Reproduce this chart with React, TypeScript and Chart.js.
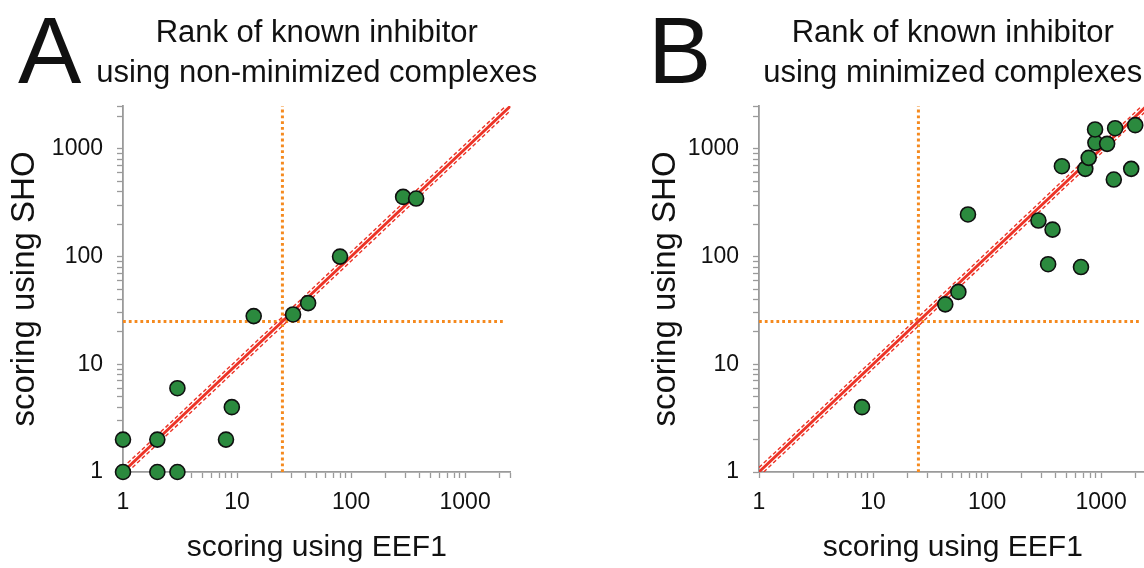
import React, { useEffect, useRef } from 'react';
import { Chart, registerables } from 'chart.js';

Chart.register(...registerables);

// ---------- data ----------
const AXIS_MIN = 1;
const AXIS_MAX = 2500;
const MAJOR_TICKS = [1, 10, 100, 1000];
const MINOR_MULTIPLIERS = [2, 3, 4, 5, 6, 7, 8, 9];
const TICK_LABELS = ['1', '10', '100', '1000'];
const CUTOFF_RANK = 25;
const CUTOFF_H_END = 2250;
const BAND_FACTOR = 1.1;

const A_EEF1 = [1, 1, 2, 2, 3, 3, 8, 9, 14, 31, 42, 80, 286, 372];
const A_SHO = [1, 2, 2, 1, 1, 6, 2, 4, 28, 29, 37, 100, 358, 346];

const B_EEF1 = [8, 43, 56, 68, 282, 375, 343, 666, 453, 727, 778, 891, 885, 1129, 1327, 1292, 1836, 1991];
const B_SHO = [4, 36, 47, 246, 216, 178, 85, 80, 690, 652, 825, 1137, 1513, 1113, 1556, 519, 652, 1660];

const TITLE_LINE_1 = 'Rank of known inhibitor';
const A_TITLE_LINE_2 = 'using non-minimized complexes';
const B_TITLE_LINE_2 = 'using minimized complexes';
const X_TITLE = 'scoring using EEF1';
const Y_TITLE = 'scoring using SHO';

// ---------- style ----------
const FONT = '"Liberation Sans", Arial, Helvetica, sans-serif';
const TEXT = '#111111';
const AXIS_GREY = '#9a9a9a';
const GREEN = '#2b8a3e';
const RED = '#ec3326';
const ORANGE = '#f58a1f';

const CANVAS_W = 600;
const CANVAS_H = 568;

const TICK_VALUES: number[] = (() => {
  const out: number[] = [];
  MAJOR_TICKS.forEach((m) => {
    out.push(m);
    MINOR_MULTIPLIERS.forEach((k) => {
      if (m * k < AXIS_MAX) out.push(m * k);
    });
  });
  out.push(AXIS_MAX);
  return out.sort((a, b) => a - b);
})();

const tickLabel = (v: number) => {
  const i = MAJOR_TICKS.indexOf(v);
  return i >= 0 ? TICK_LABELS[i] : '';
};

const panelTextPlugin = {
  id: 'panelText',
  afterDraw(chart: any, _args: any, opts: any) {
    const { ctx, chartArea } = chart;
    ctx.save();
    ctx.fillStyle = TEXT;
    ctx.textBaseline = 'alphabetic';
    ctx.textAlign = 'left';
    ctx.font = `95px ${FONT}`;
    ctx.fillText(opts.letter, opts.letterX, 83);
    ctx.font = `31px ${FONT}`;
    ctx.textAlign = 'center';
    const cx = (chartArea.left + chartArea.right) / 2;
    (opts.lines as string[]).forEach((line, i) => ctx.fillText(line, cx, 42 + i * 40));
    ctx.restore();
  },
};

type PanelCfg = {
  letter: string;
  letterX: number;
  line2: string;
  xs: number[];
  ys: number[];
  yTitlePad: number;
};

const PANEL_A: PanelCfg = { letter: 'A', letterX: 18, line2: A_TITLE_LINE_2, xs: A_EEF1, ys: A_SHO, yTitlePad: 5 };
const PANEL_B: PanelCfg = { letter: 'B', letterX: 12, line2: B_TITLE_LINE_2, xs: B_EEF1, ys: B_SHO, yTitlePad: 10 };

function makeScale(axis: 'x' | 'y', yTitlePad: number) {
  const isX = axis === 'x';
  return {
    type: 'logarithmic',
    position: isX ? 'bottom' : 'left',
    min: AXIS_MIN,
    max: AXIS_MAX,
    afterBuildTicks: (scale: any) => {
      scale.ticks = TICK_VALUES.map((v) => ({ value: v, major: MAJOR_TICKS.includes(v) }));
    },
    afterFit: (scale: any) => {
      if (isX) scale.height = 96;
      else scale.width = 123;
    },
    ticks: {
      autoSkip: false,
      maxRotation: 0,
      minRotation: 0,
      padding: isX ? 11 : 14,
      color: TEXT,
      font: { family: FONT, size: 23 },
      callback: (v: any) => tickLabel(Number(v)),
    },
    grid: {
      display: true,
      drawOnChartArea: false,
      drawTicks: true,
      tickLength: 6,
      tickColor: AXIS_GREY,
      tickWidth: 1.3,
    },
    border: { display: true, color: AXIS_GREY, width: 1.8 },
    title: {
      display: true,
      text: isX ? X_TITLE : Y_TITLE,
      color: TEXT,
      font: { family: FONT, size: isX ? 30 : 33 },
      padding: isX ? { top: 0, bottom: 2 } : { top: yTitlePad, bottom: 0 },
    },
  };
}

function Panel({ cfg, left }: { cfg: PanelCfg; left: number }) {
  const ref = useRef<HTMLCanvasElement | null>(null);
  useEffect(() => {
    if (!ref.current) return;
    const points = cfg.xs.map((x, i) => ({ x, y: cfg.ys[i] }));
    const lineDs = (data: any[], color: string, width: number, dash: number[]) => ({
      data,
      showLine: true,
      borderColor: color,
      borderWidth: width,
      borderDash: dash,
      pointRadius: 0,
      pointHoverRadius: 0,
      fill: false,
    });
    const chart = new Chart(ref.current, {
      type: 'scatter',
      data: {
        datasets: [
          {
            data: points,
            backgroundColor: GREEN,
            borderColor: '#101010',
            borderWidth: 1.6,
            pointRadius: 7.5,
            pointHoverRadius: 7.5,
            clip: false,
          } as any,
          lineDs([{ x: AXIS_MIN, y: AXIS_MIN }, { x: AXIS_MAX, y: AXIS_MAX }], RED, 2.8, []),
          lineDs(
            [{ x: AXIS_MIN, y: AXIS_MIN * BAND_FACTOR }, { x: AXIS_MAX / BAND_FACTOR, y: AXIS_MAX }],
            RED, 1.4, [4, 2.5]
          ),
          lineDs(
            [{ x: AXIS_MIN * BAND_FACTOR, y: AXIS_MIN }, { x: AXIS_MAX, y: AXIS_MAX / BAND_FACTOR }],
            RED, 1.4, [4, 2.5]
          ),
          lineDs([{ x: CUTOFF_RANK, y: AXIS_MIN }, { x: CUTOFF_RANK, y: AXIS_MAX }], ORANGE, 3, [2.8, 3]),
          lineDs([{ x: AXIS_MIN, y: CUTOFF_RANK }, { x: CUTOFF_H_END, y: CUTOFF_RANK }], ORANGE, 3, [2.8, 3]),
        ],
      },
      options: {
        responsive: false,
        animation: false,
        devicePixelRatio: 1,
        events: [],
        layout: { padding: { left: 0, top: 106, right: CANVAS_W - 510.5, bottom: 0 } },
        scales: {
          x: makeScale('x', 0) as any,
          y: makeScale('y', cfg.yTitlePad) as any,
        },
        plugins: {
          legend: { display: false },
          tooltip: { enabled: false },
          panelText: { letter: cfg.letter, letterX: cfg.letterX, lines: [TITLE_LINE_1, cfg.line2] },
        } as any,
      },
      plugins: [panelTextPlugin],
    });
    return () => chart.destroy();
  }, [cfg]);
  return (
    <canvas
      ref={ref}
      width={CANVAS_W}
      height={CANVAS_H}
      style={{ position: 'absolute', left, top: 0, width: CANVAS_W, height: CANVAS_H }}
    />
  );
}

export default function App() {
  return (
    <div
      style={{
        position: 'fixed',
        left: 0,
        top: 0,
        width: 1144,
        height: 568,
        overflow: 'hidden',
        background: '#fff',
      }}
    >
      <Panel cfg={PANEL_A} left={0} />
      <Panel cfg={PANEL_B} left={636} />
    </div>
  );
}
